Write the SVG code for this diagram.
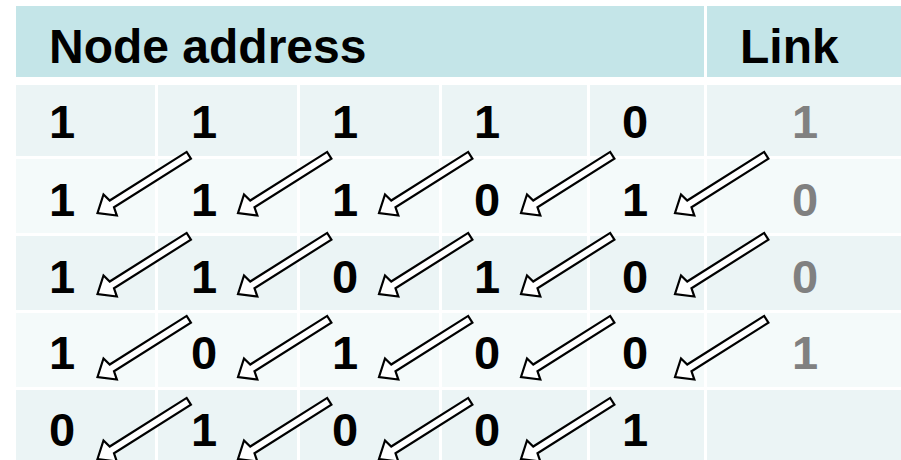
<svg xmlns="http://www.w3.org/2000/svg" xmlns:xlink="http://www.w3.org/1999/xlink" width="901" height="460" viewBox="0 0 901 460">
<style>
.hd{fill:#c4e5e8}
.dk{fill:#ebf4f5}
.lt{fill:#f4fafa}
.t{font-family:"Liberation Sans",Arial,sans-serif;font-weight:bold;font-size:47px;fill:#000}
.h{font-size:48px}
.g{fill:#808080;text-anchor:middle}
.arr{fill:#fff;stroke:#000;stroke-width:2.2;stroke-linejoin:miter}
</style>
<defs>
<polygon id="arr" class="arr" points="0,0 15,-12.5 17,-4 108,-4 108,4 17,4 15,12.5"/>
</defs>
<rect width="901" height="460" fill="#fff"/>
<g id="header">
<rect class="hd" x="16" y="6" width="688" height="71"/>
<rect class="hd" x="707" y="6" width="194" height="71"/>
<text class="t h" x="49" y="63">Node address</text>
<text class="t h" x="740" y="63">Link</text>
</g>
<g id="row1">
<rect class="dk" x="16" y="85" width="139" height="71"/>
<rect class="dk" x="158" y="85" width="139" height="71"/>
<rect class="dk" x="300" y="85" width="139" height="71"/>
<rect class="dk" x="442" y="85" width="145" height="71"/>
<rect class="dk" x="590" y="85" width="114" height="71"/>
<rect class="dk" x="707" y="85" width="194" height="71"/>
<text class="t" x="49" y="138">1</text>
<text class="t" x="191" y="138">1</text>
<text class="t" x="332" y="138">1</text>
<text class="t" x="474" y="138">1</text>
<text class="t" x="622" y="138">0</text>
<text class="t g" x="805" y="138">1</text>
</g>
<g id="row2">
<rect class="lt" x="16" y="159" width="139" height="74"/>
<rect class="lt" x="158" y="159" width="139" height="74"/>
<rect class="lt" x="300" y="159" width="139" height="74"/>
<rect class="lt" x="442" y="159" width="145" height="74"/>
<rect class="lt" x="590" y="159" width="114" height="74"/>
<rect class="lt" x="707" y="159" width="194" height="74"/>
<text class="t" x="49" y="216">1</text>
<text class="t" x="191" y="216">1</text>
<text class="t" x="332" y="216">1</text>
<text class="t" x="474" y="216">0</text>
<text class="t" x="622" y="216">1</text>
<text class="t g" x="805" y="216">0</text>
</g>
<g id="row3">
<rect class="dk" x="16" y="236" width="139" height="74"/>
<rect class="dk" x="158" y="236" width="139" height="74"/>
<rect class="dk" x="300" y="236" width="139" height="74"/>
<rect class="dk" x="442" y="236" width="145" height="74"/>
<rect class="dk" x="590" y="236" width="114" height="74"/>
<rect class="dk" x="707" y="236" width="194" height="74"/>
<text class="t" x="49" y="293">1</text>
<text class="t" x="191" y="293">1</text>
<text class="t" x="332" y="293">0</text>
<text class="t" x="474" y="293">1</text>
<text class="t" x="622" y="293">0</text>
<text class="t g" x="805" y="293">0</text>
</g>
<g id="row4">
<rect class="lt" x="16" y="313" width="139" height="74"/>
<rect class="lt" x="158" y="313" width="139" height="74"/>
<rect class="lt" x="300" y="313" width="139" height="74"/>
<rect class="lt" x="442" y="313" width="145" height="74"/>
<rect class="lt" x="590" y="313" width="114" height="74"/>
<rect class="lt" x="707" y="313" width="194" height="74"/>
<text class="t" x="49" y="369">1</text>
<text class="t" x="191" y="369">0</text>
<text class="t" x="332" y="369">1</text>
<text class="t" x="474" y="369">0</text>
<text class="t" x="622" y="369">0</text>
<text class="t g" x="805" y="369">1</text>
</g>
<g id="row5">
<rect class="dk" x="16" y="390" width="139" height="70"/>
<rect class="dk" x="158" y="390" width="139" height="70"/>
<rect class="dk" x="300" y="390" width="139" height="70"/>
<rect class="dk" x="442" y="390" width="145" height="70"/>
<rect class="dk" x="590" y="390" width="114" height="70"/>
<rect class="dk" x="707" y="390" width="194" height="70"/>
<text class="t" x="49" y="446">0</text>
<text class="t" x="191" y="446">1</text>
<text class="t" x="332" y="446">0</text>
<text class="t" x="474" y="446">0</text>
<text class="t" x="622" y="446">1</text>
</g>
<g id="connectors">
<use xlink:href="#arr" transform="translate(97.5,213) rotate(-32.3)"/>
<use xlink:href="#arr" transform="translate(238,213) rotate(-32.3)"/>
<use xlink:href="#arr" transform="translate(379,213) rotate(-32.3)"/>
<use xlink:href="#arr" transform="translate(521,213) rotate(-32.3)"/>
<use xlink:href="#arr" transform="translate(675,213) rotate(-32.3)"/>
<use xlink:href="#arr" transform="translate(97.5,294) rotate(-32.3)"/>
<use xlink:href="#arr" transform="translate(238,294) rotate(-32.3)"/>
<use xlink:href="#arr" transform="translate(379,294) rotate(-32.3)"/>
<use xlink:href="#arr" transform="translate(521,294) rotate(-32.3)"/>
<use xlink:href="#arr" transform="translate(675,294) rotate(-32.3)"/>
<use xlink:href="#arr" transform="translate(97.5,377) rotate(-32.3)"/>
<use xlink:href="#arr" transform="translate(238,377) rotate(-32.3)"/>
<use xlink:href="#arr" transform="translate(379,377) rotate(-32.3)"/>
<use xlink:href="#arr" transform="translate(521,377) rotate(-32.3)"/>
<use xlink:href="#arr" transform="translate(675,377) rotate(-32.3)"/>
<use xlink:href="#arr" transform="translate(97.5,459) rotate(-32.3)"/>
<use xlink:href="#arr" transform="translate(238,459) rotate(-32.3)"/>
<use xlink:href="#arr" transform="translate(379,459) rotate(-32.3)"/>
<use xlink:href="#arr" transform="translate(521,459) rotate(-32.3)"/>
</g>
</svg>
